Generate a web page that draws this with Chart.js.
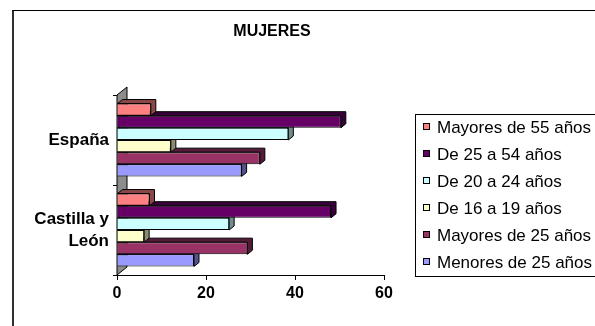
<!DOCTYPE html>
<html>
<head>
<meta charset="utf-8">
<script src="https://cdn.jsdelivr.net/npm/chart.js@4/dist/chart.umd.min.js"></script>
<style>
  html, body { margin: 0; padding: 0; background: #fff; overflow: hidden; }
  #wrap { width: 595px; height: 326px; }
</style>
</head>
<body>
<div id="wrap"><canvas id="myChart"></canvas></div>
<script>
const FONT = 'Liberation Sans, Arial, sans-serif';

const chartTitle = 'MUJERES';
const categories = ['España', ['Castilla y', 'León']];
const seriesLabels = [
    'Mayores de 55 años',
    'De 25 a 54 años',
    'De 20 a 24 años',
    'De 16 a 19 años',
    'Mayores de 25 años',
    'Menores de 25 años'
];
const mayores55 = [7.6, 7.3];
const de25a54 = [50.3, 48.1];
const de20a24 = [38.5, 25.2];
const de16a19 = [12.1, 6.1];
const mayores25 = [32.1, 29.3];
const menores25 = [28.0, 17.3];
const xTicks = [0, 20, 40, 60];

const seriesValues = [mayores55, de25a54, de20a24, de16a19, mayores25, menores25];
const colors = ['#FF8080', '#660066', '#CCFFFF', '#FFFFCC', '#993366', '#9999FF'];

function darker(hex, f) {
    const n = parseInt(hex.slice(1), 16);
    const r = Math.round(((n >> 16) & 255) * f);
    const g = Math.round(((n >> 8) & 255) * f);
    const b = Math.round((n & 255) * f);
    return 'rgb(' + r + ',' + g + ',' + b + ')';
}

// frame, back wall and the 3d sides of the bars
const decor = {
    id: 'decor',
    beforeDatasetsDraw(chart) {
        const ctx = chart.ctx;
        const a = chart.chartArea;
        ctx.save();
        // wall
        ctx.beginPath();
        ctx.moveTo(a.left, a.top);
        ctx.lineTo(a.left + 10, a.top - 8);
        ctx.lineTo(a.left + 10, a.bottom - 8);
        ctx.lineTo(a.left, a.bottom);
        ctx.closePath();
        ctx.fillStyle = '#8c8c8c';
        ctx.fill();
        ctx.strokeStyle = '#000';
        ctx.lineWidth = 1;
        ctx.stroke();
        // bar depth, drawn bottom bar first
        const dx = 5, dy = -4;
        for (let d = chart.data.datasets.length - 1; d >= 0; d--) {
            const meta = chart.getDatasetMeta(d);
            const col = chart.data.datasets[d].backgroundColor;
            meta.data.forEach(function (bar) {
                const p = bar.getProps(['x', 'y', 'base', 'height'], true);
                const top = p.y - p.height / 2, bot = p.y + p.height / 2;
                ctx.beginPath();
                ctx.moveTo(p.base, top);
                ctx.lineTo(p.base + dx, top + dy);
                ctx.lineTo(p.x + dx, top + dy);
                ctx.lineTo(p.x + dx, bot + dy);
                ctx.lineTo(p.x, bot);
                ctx.lineTo(p.x, top);
                ctx.closePath();
                ctx.fillStyle = darker(col, 0.55);
                ctx.fill();
                ctx.strokeStyle = '#000';
                ctx.stroke();
            });
        }
        ctx.restore();
    },
    afterDraw(chart) {
        const ctx = chart.ctx;
        ctx.save();
        ctx.fillStyle = '#303030';
        ctx.fillRect(12, 10, 2, 316);
        ctx.fillStyle = '#000';
        ctx.fillRect(12, 10, 583, 1);
        // title
        ctx.font = 'bold 16px ' + FONT;
        ctx.textAlign = 'center';
        ctx.textBaseline = 'middle';
        ctx.fillText(chartTitle, 272, 32);
        // legend
        ctx.strokeStyle = '#000';
        ctx.lineWidth = 1;
        ctx.strokeRect(415.5, 114.5, 200, 162);
        ctx.font = '17px ' + FONT;
        ctx.textAlign = 'left';
        chart.data.datasets.forEach(function (ds, i) {
            const y = 127 + i * 27;
            ctx.fillStyle = ds.backgroundColor;
            ctx.fillRect(423, y - 4, 7, 7);
            ctx.strokeRect(423.5, y - 3.5, 6, 6);
            ctx.fillStyle = '#000';
            ctx.fillText(ds.label, 437, y + 1);
        });
        ctx.restore();
    }
};

const config = {
    type: 'bar',
    data: {
        labels: categories,
        datasets: seriesLabels.map(function (label, i) {
            return {
                label: label,
                data: seriesValues[i],
                backgroundColor: colors[i],
                borderColor: '#000',
                borderWidth: 1,
                barPercentage: 1,
                categoryPercentage: 0.81
            };
        })
    },
    options: {
        indexAxis: 'y',
        responsive: false,
        animation: false,
        layout: {
            autoPadding: false,
            padding: { left: 13, top: 95, right: 211, bottom: 0 }
        },
        plugins: {
            legend: { display: false },
            title: { display: false },
            tooltip: { enabled: false }
        },
        scales: {
            x: {
                min: 0,
                max: 60,
                afterBuildTicks: function (s) { s.ticks = xTicks.map(function (v) { return { value: v }; }); },
                afterFit: function (s) { s.height = 51; },
                grid: { drawOnChartArea: false, tickLength: 5, color: '#000' },
                border: { color: '#000' },
                ticks: { color: '#000', padding: 4, font: { family: FONT, size: 16, weight: 'bold' } }
            },
            y: {
                afterFit: function (s) { s.width = 104; },
                grid: { drawOnChartArea: false, tickLength: 4, color: '#000', offset: true },
                border: { color: '#000' },
                ticks: { color: '#000', padding: 4, font: { family: FONT, size: 17, weight: 'bold', lineHeight: 1.3 } }
            }
        }
    },
    plugins: [decor]
};

const canvas = document.getElementById('myChart');
canvas.width = 595;
canvas.height = 326;
new Chart(canvas, config);
</script>
</body>
</html>
